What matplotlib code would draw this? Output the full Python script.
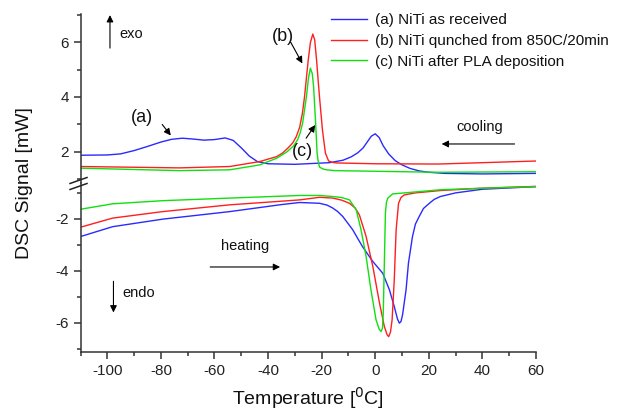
import matplotlib
matplotlib.use("Agg")
import matplotlib.pyplot as plt
from matplotlib.ticker import MultipleLocator
from matplotlib.lines import Line2D

plt.rcParams['font.family'] = ['Liberation Sans', 'DejaVu Sans']
plt.rcParams['axes.unicode_minus'] = False

# ---- data ----
labels = ["(a) NiTi as received",
          "(b) NiTi qunched from 850C/20min",
          "(c) NiTi after PLA deposition"]
colors = ["#2a2aff", "#ff1f1f", "#10e010"]

# cooling (upper panel)
cool_a_x = [-110, -100, -95, -90, -85, -80, -76, -72, -68, -64, -60, -56, -53, -50, -47, -44, -40,
            -30, -17, -12, -9, -6.5, -4.5, -3, -1.5, 0, 1.5, 3, 5, 7.5, 10, 13, 16.4, 20, 26, 40, 60]
cool_a_y = [1.88, 1.89, 1.93, 2.05, 2.20, 2.36, 2.46, 2.50, 2.47, 2.43, 2.45, 2.51, 2.42, 2.15, 1.85, 1.65, 1.57,
            1.55, 1.61, 1.70, 1.82, 1.97, 2.15, 2.36, 2.57, 2.66, 2.52, 2.22, 1.93, 1.68, 1.53, 1.40, 1.31, 1.26, 1.22, 1.20, 1.22]

cool_b_x = [-110, -73, -54.3, -43.1, -36.8, -34.6, -32.5, -30.8, -29.5, -28.2, -27.2, -26.4, -25.0, -24.2,
            -23.3, -22.6, -21.9, -21.3, -20.8, -19.7, -18.6, -17.4, -16, -14.5, 0, 23.6, 60]
cool_b_y = [1.47, 1.42, 1.47, 1.65, 1.83, 1.96, 2.15, 2.33, 2.55, 2.90, 3.40, 4.00, 5.35, 5.98,
            6.29, 6.08, 5.35, 4.60, 4.00, 2.80, 1.96, 1.67, 1.62, 1.60, 1.57, 1.56, 1.67]

cool_c_x = [-110, -73, -54.3, -43.1, -36.8, -33, -30.5, -29, -28, -27.1, -25.7, -24.9, -24.2, -23.5,
            -23.0, -22.3, -21.7, -21.2, -20.8, -19.5, -18.2, -15, 23.6, 60]
cool_c_y = [1.41, 1.32, 1.35, 1.53, 1.77, 2.00, 2.22, 2.44, 2.70, 3.05, 4.00, 4.70, 5.05, 4.85,
            4.36, 3.16, 1.96, 1.60, 1.45, 1.38, 1.35, 1.32, 1.26, 1.28]

# heating (lower panel)
heat_a_x = [-110, -98, -79.3, -54.3, -35, -28.2, -20.8, -18, -15.9, -14, -12.1, -8.4, -4.8, -0.9, 2.8,
            5.3, 7.1, 8.3, 9.0, 9.6, 10.2, 11.5, 12.4, 13.9, 15, 16.4, 18, 20.2, 22, 24.3, 30, 40, 60]
heat_a_y = [-2.68, -2.30, -2.01, -1.72, -1.45, -1.37, -1.40, -1.47, -1.58, -1.72, -1.91, -2.42, -3.06, -3.64, -4.09,
            -4.73, -5.37, -5.85, -6.01, -5.95, -5.69, -4.73, -3.70, -2.68, -2.20, -1.91, -1.60, -1.40, -1.25, -1.14,
            -1.00, -0.86, -0.76]

heat_b_x = [-110, -98, -79.3, -54.3, -28.2, -20.8, -15.9, -12.5, -9.6, -7.5, -5.9, -3.4, -0.9, 1.6, 3.4, 4.4,
            5.0, 5.7, 6.3, 7.1, 7.8, 8.7, 9.6, 10.8, 15, 24.3, 40, 60]
heat_b_y = [-2.32, -1.97, -1.72, -1.46, -1.27, -1.17, -1.20, -1.28, -1.40, -1.58, -1.85, -2.68, -3.83, -5.24, -6.14, -6.45,
            -6.53, -6.35, -5.88, -4.35, -2.42, -1.40, -1.18, -1.08, -1.00, -0.91, -0.82, -0.75]

heat_c_x = [-110, -98, -79.3, -54.3, -28.2, -20.8, -15.9, -12.5, -9.6, -7.1, -5.3, -3.4, -1.6, 0.3, 1.5,
            2.2, 2.7, 3.0, 3.4, 3.8, 4.2, 4.7, 6.5, 24.3, 40, 60]
heat_c_y = [-1.63, -1.42, -1.30, -1.20, -1.10, -1.10, -1.14, -1.18, -1.27, -1.65, -2.42, -3.45, -4.73, -5.88, -6.25,
            -6.33, -6.20, -5.60, -3.70, -1.77, -1.35, -1.20, -1.04, -0.88, -0.82, -0.76]

x_major = [-100, -80, -60, -40, -20, 0, 20, 40, 60]

# ---- figure ----
W, H = 635, 411
fig = plt.figure(figsize=(W / 100, H / 100), dpi=100)

def fx(px):
    return px / W

def fy(py):
    return 1 - py / H

left, right = fx(80.5), fx(536)
top_px, brk_px, bot_px = 14, 183, 352
ax_up = fig.add_axes([left, fy(brk_px), right - left, fy(top_px) - fy(brk_px)])
ax_lo = fig.add_axes([left, fy(bot_px), right - left, fy(brk_px) - fy(bot_px)], sharex=ax_up)

lw = 1.0
ax_up.plot(cool_a_x, cool_a_y, color=colors[0], lw=lw)
ax_up.plot(cool_b_x, cool_b_y, color=colors[1], lw=lw)
ax_up.plot(cool_c_x, cool_c_y, color=colors[2], lw=lw)
ax_lo.plot(heat_a_x, heat_a_y, color=colors[0], lw=lw)
ax_lo.plot(heat_b_x, heat_b_y, color=colors[1], lw=lw)
ax_lo.plot(heat_c_x, heat_c_y, color=colors[2], lw=lw)

ax_up.set_xlim(-110, 60)
ax_up.set_ylim(0.87, 7.02)
ax_lo.set_ylim(-7.12, -0.62)

tick_color = "#222222"
for ax in (ax_up, ax_lo):
    for s in ("top", "right"):
        ax.spines[s].set_visible(False)
    ax.spines["left"].set_linewidth(1.1)
    ax.spines["bottom"].set_linewidth(1.1)
    ax.spines["left"].set_color("#333333")
    ax.spines["bottom"].set_color("#333333")
    ax.yaxis.set_minor_locator(MultipleLocator(1))
    ax.tick_params(which="major", direction="out", length=5, width=1.1, labelsize=11,
                   colors="#333333", labelcolor=tick_color)
    ax.tick_params(which="minor", direction="out", length=3, width=1.1, colors="#333333")

ax_up.spines["bottom"].set_visible(False)
ax_up.tick_params(axis="x", which="both", bottom=False, labelbottom=False)
ax_up.set_yticks([2, 4, 6])
ax_lo.set_yticks([-2, -4, -6])
ax_lo.set_xticks(x_major)
ax_lo.xaxis.set_minor_locator(MultipleLocator(10))

# break marks
for y0 in (183.5, 189.5):
    fig.add_artist(Line2D([fx(70), fx(87)], [fy(y0), fy(y0 - 6)], color="#222222", lw=1.1))

# labels
fig.text(fx(25), fy(183), "DSC Signal [mW]", rotation=90, ha="center", va="center", fontsize=14,
         color="#111111")
fig.text(fx(308), fy(398), "Temperature [$^0$C]", ha="center", va="center", fontsize=14,
         color="#111111")

# legend
handles = [Line2D([], [], color=c, lw=lw) for c in colors]
fig.legend(handles, labels, loc="upper left", bbox_to_anchor=(fx(331), fy(13)),
           bbox_transform=fig.transFigure, frameon=False, fontsize=11,
           handlelength=2.35, handletextpad=0.5, labelspacing=0.45, borderpad=0,
           borderaxespad=0, labelcolor="#111111")

# annotations
ap = dict(arrowstyle="-|>", color="black", lw=0.8, mutation_scale=10, shrinkA=0, shrinkB=0)
ax_up.annotate("", xy=(-99, 6.98), xytext=(-99, 5.78), arrowprops=ap)
ax_up.text(-95.5, 6.3, "exo", fontsize=10.5, va="center", ha="left", color="#111111")
ax_lo.annotate("", xy=(-97.7, -5.6), xytext=(-97.7, -4.4), arrowprops=ap)
ax_lo.text(-94.5, -4.85, "endo", fontsize=10.5, va="center", ha="left", color="#111111")

ax_up.text(-87, 3.24, "(a)", fontsize=13, ha="center", va="center", color="#111111")
ax_up.annotate("", xy=(-76.3, 2.6), xytext=(-79.5, 3.0), arrowprops=ap)
ax_up.text(-34.6, 6.2, "(b)", fontsize=13, ha="center", va="center", color="#111111")
ax_up.annotate("", xy=(-27.2, 5.22), xytext=(-31.6, 6.0), arrowprops=ap)
ax_up.text(-27.3, 2.0, "(c)", fontsize=13, ha="center", va="center", color="#111111")
ax_up.annotate("", xy=(-22.4, 2.98), xytext=(-25.8, 2.5), arrowprops=ap)

ax_up.text(39, 2.9, "cooling", fontsize=10.5, ha="center", va="center", color="#111111")
ax_up.annotate("", xy=(24.8, 2.29), xytext=(52, 2.29), arrowprops=ap)
ax_lo.text(-48.5, -3.05, "heating", fontsize=10.5, ha="center", va="center", color="#111111")
ax_lo.annotate("", xy=(-35.5, -3.85), xytext=(-61.6, -3.85), arrowprops=ap)

fig.savefig("out.png", dpi=100)
